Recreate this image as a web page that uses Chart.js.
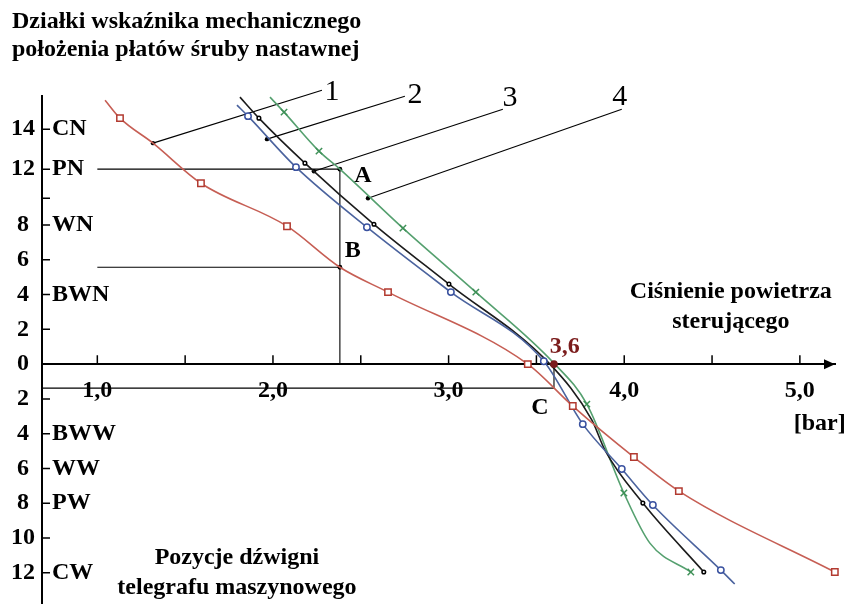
<!DOCTYPE html>
<html>
<head>
<meta charset="utf-8">
<title>Charakterystyka sterowania śrubą nastawną</title>
<script src="https://cdn.jsdelivr.net/npm/chart.js@4/dist/chart.umd.min.js"></script>
<style>
  html, body { margin: 0; padding: 0; background: #fff; }
  #wrap { width: 850px; height: 604px; }
</style>
</head>
<body>
<div id="wrap"><canvas id="chart"></canvas></div>
<script>
// pressure [bar] vs indicator divisions
// curve 1 - red squares
const redX = [1.044, 1.129, 1.317, 1.590, 2.080, 2.381, 2.655, 3.451, 3.707, 4.055, 4.311, 5.199];
const redY = [15.45, 14.55, 13.3, 11.03, 7.93, 5.57, 4.14, 0, -2.41, -5.34, -7.30, -11.95];
const redMarks = [0, 1, 0, 1, 1, 0, 1, 1, 1, 1, 1, 1];

// curve 2 - blue circles
const blueX = [1.795, 1.858, 2.131, 2.535, 3.013, 3.542, 3.764, 3.986, 4.163, 4.550, 4.629];
const blueY = [15.2, 14.65, 12.1, 7.87, 4.14, 0.17, -3.45, -6.03, -8.10, -11.84, -12.64];
const blueMarks = [0, 1, 1, 1, 1, 1, 1, 1, 1, 1, 0];

// curve 3 - black dots
const blackX = [1.812, 1.920, 2.182, 2.575, 3.002, 3.577, 3.816, 3.890, 4.106, 4.453];
const blackY = [15.6, 14.55, 12.3, 8.05, 4.60, 0, -3.22, -4.94, -7.99, -11.95];
const blackMarks = [0, 1, 1, 1, 1, 0, 0, 0, 1, 1];

// curve 4 - green crosses
const greenX = [1.983, 2.063, 2.262, 2.381, 2.740, 3.155, 3.605, 3.787, 3.998, 4.146, 4.379];
const greenY = [15.6, 14.85, 12.9, 12.0, 7.82, 4.14, 0, -2.30, -7.41, -10.29, -11.95];
const greenMarks = [0, 1, 1, 0, 1, 1, 0, 1, 1, 0, 1];

// construction points A, B, C
const pointA = { x: 2.381, y: 12 };
const pointB = { x: 2.381, y: 5.57 };
const pointC = { x: 3.6, y: 0 };
const guideFromX = 1.0;
const cLineY = -1.38;

// leader lines for the curve numbers
const leaderNames = ['1', '2', '3', '4'];
const leaderFromX = [1.317, 1.966, 2.233, 2.541];
const leaderFromY = [13.3, 13.5, 11.86, 10.0];
const leaderToX = [2.279, 2.751, 3.309, 3.986];
const leaderToY = [15.95, 15.65, 15.0, 15.0];

// axes
const xLabelValues = [1, 2, 3, 4, 5];
const xMarkValues = [1, 1.5, 2, 2.5, 3, 3.5, 4, 4.5, 5];
const yTickValues = [14, 12, 8, 6, 4, 2, 0, -2, -4, -6, -8, -10, -12];
const yMarkValues = [14, 12, 10, 8, 6, 4, 2, -2, -4, -6, -8, -10, -12];
const gearValues = [14, 12, 8, 4, -4, -6, -8, -12];
const gearNames = ['CN', 'PN', 'WN', 'BWN', 'BWW', 'WW', 'PW', 'CW'];

// the indicator scale is squeezed above 8 divisions
const warpV = [8, 10, 12, 14];
const warpU = [8, 9.54, 11.21, 13.51];
const warpTop = 1.149;

function warp(v) {
  if (v <= warpV[0]) return v;
  for (let i = 1; i < warpV.length; i++) {
    if (v <= warpV[i]) {
      const t = (v - warpV[i - 1]) / (warpV[i] - warpV[i - 1]);
      return warpU[i - 1] + t * (warpU[i] - warpU[i - 1]);
    }
  }
  return warpU[warpU.length - 1] + (v - warpV[warpV.length - 1]) * warpTop;
}

function unwarp(u) {
  if (u <= warpU[0]) return u;
  for (let i = 1; i < warpU.length; i++) {
    if (u <= warpU[i]) {
      const t = (u - warpU[i - 1]) / (warpU[i] - warpU[i - 1]);
      return warpV[i - 1] + t * (warpV[i] - warpV[i - 1]);
    }
  }
  return warpV[warpV.length - 1] + (u - warpU[warpU.length - 1]) / warpTop;
}

class WarpScale extends Chart.LinearScale {
  getPixelForValue(value) {
    if (value === null || value === undefined || isNaN(value)) return NaN;
    const u0 = warp(this.min), u1 = warp(this.max);
    return this.getPixelForDecimal((warp(value) - u0) / (u1 - u0));
  }
  getValueForPixel(pixel) {
    const u0 = warp(this.min), u1 = warp(this.max);
    return unwarp(u0 + this.getDecimalForPixel(pixel) * (u1 - u0));
  }
}
WarpScale.id = 'warp';
Chart.register(WarpScale);

const SERIF = "'Liberation Serif', 'Times New Roman', serif";
const boldFont = { family: SERIF, size: 24, weight: 'bold' };

const zip = (xs, ys) => xs.map((v, i) => ({ x: v, y: ys[i] }));

// no extra room around the axes, the plot fills the canvas
function noPadding(s) {
  s.paddingTop = 0;
  s.paddingBottom = 0;
  s.paddingLeft = 0;
  s.paddingRight = 0;
}

function curve(xs, ys, marks, color, pointColor, style, r) {
  return {
    data: zip(xs, ys),
    showLine: true,
    cubicInterpolationMode: 'monotone',
    clip: false,
    borderColor: color,
    borderWidth: 1.6,
    pointStyle: style,
    pointRadius: marks.map(m => m ? r : 0),
    pointBorderColor: pointColor,
    pointBackgroundColor: style === 'crossRot' ? pointColor : '#fff',
    pointBorderWidth: 1.5
  };
}

function guide(points, radii) {
  return {
    data: points,
    showLine: true,
    tension: 0,
    clip: false,
    borderColor: '#000',
    borderWidth: 1.1,
    pointRadius: radii,
    pointBackgroundColor: '#000',
    pointBorderWidth: 0
  };
}

const datasets = [
  curve(redX, redY, redMarks, '#c65e54', '#b23a30', 'rect', 4.5),
  curve(blueX, blueY, blueMarks, '#4b639e', '#3a52a0', 'circle', 3.2),
  curve(blackX, blackY, blackMarks, '#1c1c1c', '#000', 'circle', 1.8),
  curve(greenX, greenY, greenMarks, '#55a06f', '#3f9158', 'crossRot', 4.5),
  guide([{ x: guideFromX, y: pointA.y }, pointA, { x: pointA.x, y: 0 }], [0, 2.4, 0]),
  guide([{ x: guideFromX, y: pointB.y }, pointB], [0, 2.4]),
  guide([{ x: 0.685, y: cLineY }, { x: pointC.x, y: cLineY }, { x: pointC.x, y: 0 }], 0)
];
leaderNames.forEach((n, i) => {
  datasets.push(guide([{ x: leaderFromX[i], y: leaderFromY[i] }, { x: leaderToX[i], y: leaderToY[i] }], [2.2, 0]));
});
datasets.unshift({
  data: [pointC],
  clip: false,
  pointRadius: 3.8,
  pointBackgroundColor: '#7b1c1c',
  pointBorderWidth: 0
});

// free text on the drawing
const notes = [
  { text: 'A', x: 2.512, y: 11.52 },
  { text: 'B', x: 2.455, y: 6.49 },
  { text: 'C', x: 3.520, y: -2.53 },
  { text: '3,6', x: 3.662, y: 0.98, color: '#7b1c1c' },
  { text: '[bar]', x: 5.113, y: -3.45 },
  { text: 'Ciśnienie powietrza', x: 4.607, y: 4.14 },
  { text: 'sterującego', x: 4.607, y: 2.41 },
  { text: 'Pozycje dźwigni', x: 1.795, y: -11.15 },
  { text: 'telegrafu maszynowego', x: 1.795, y: -12.87 },
  { text: '1', x: 2.336, y: 15.85, plain: true },
  { text: '2', x: 2.808, y: 15.70, plain: true },
  { text: '3', x: 3.349, y: 15.55, plain: true },
  { text: '4', x: 3.975, y: 15.6, plain: true }
];

const extras = {
  id: 'extras',
  afterDraw(chart) {
    const { ctx, chartArea, scales: { x, y } } = chart;
    const y0 = y.getPixelForValue(0);
    ctx.save();
    ctx.strokeStyle = '#000';
    ctx.lineWidth = 1.5;
    ctx.beginPath();
    yMarkValues.forEach(v => {
      const py = y.getPixelForValue(v);
      ctx.moveTo(chartArea.left, py);
      ctx.lineTo(chartArea.left + 8, py);
    });
    xMarkValues.forEach(v => {
      const px = x.getPixelForValue(v);
      ctx.moveTo(px, y0);
      ctx.lineTo(px, y0 - 9);
    });
    ctx.stroke();

    // arrow head on the pressure axis
    ctx.fillStyle = '#000';
    ctx.beginPath();
    ctx.moveTo(chartArea.right, y0);
    ctx.lineTo(chartArea.right - 11, y0 - 5);
    ctx.lineTo(chartArea.right - 11, y0 + 5);
    ctx.closePath();
    ctx.fill();

    ctx.textAlign = 'center';
    ctx.textBaseline = 'middle';
    notes.forEach(n => {
      ctx.font = n.plain ? `30px ${SERIF}` : `bold 24px ${SERIF}`;
      ctx.fillStyle = n.color || '#000';
      ctx.fillText(n.text, x.getPixelForValue(n.x), y.getPixelForValue(n.y));
    });
    ctx.restore();
  }
};

new Chart(document.getElementById('chart'), {
  type: 'scatter',
  data: { datasets },
  options: {
    responsive: true,
    maintainAspectRatio: false,
    animation: false,
    layout: { autoPadding: false, padding: { left: 12, right: 15, top: 0, bottom: 0 } },
    plugins: {
      legend: { display: false },
      tooltip: { enabled: false },
      title: {
        display: true,
        text: ['Działki wskaźnika mechanicznego', 'położenia płatów śruby nastawnej'],
        align: 'start',
        color: '#000',
        font: { family: SERIF, size: 24, weight: 'bold', lineHeight: 1.17 },
        padding: { top: 8, bottom: 32 }
      }
    },
    scales: {
      x: {
        type: 'linear',
        min: 0.685,
        max: 5.2,
        position: { y: 0 },
        z: 1,
        afterBuildTicks: s => { s.ticks = xLabelValues.map(v => ({ value: v })); },
        afterFit: noPadding,
        ticks: {
          autoSkip: false,
          maxRotation: 0,
          padding: 12,
          color: '#000',
          font: boldFont,
          callback: v => v.toFixed(1).replace('.', ','),
          showLabelBackdrop: true,
          backdropColor: '#fff',
          backdropPadding: { x: 5, y: 0 }
        },
        grid: { display: false, drawTicks: false },
        border: { display: true, color: '#000', width: 2 }
      },
      y: {
        type: 'warp',
        min: -13.79,
        max: 15.65,
        position: 'left',
        weight: 1,
        afterBuildTicks: s => { s.ticks = yTickValues.map(v => ({ value: v })); },
        afterFit: s => { s.width = 30; noPadding(s); },
        ticks: {
          autoSkip: false,
          padding: 7,
          crossAlign: 'center',
          color: '#000',
          font: boldFont,
          callback: v => String(Math.abs(v))
        },
        grid: { display: false, drawTicks: false },
        border: { display: true, color: '#000', width: 2 }
      },
      yGear: {
        type: 'warp',
        min: -13.79,
        max: 15.65,
        position: 'left',
        weight: 0,
        afterBuildTicks: s => { s.ticks = gearValues.map(v => ({ value: v })); },
        afterFit: s => { s.width = 0; noPadding(s); },
        ticks: {
          mirror: true,
          autoSkip: false,
          padding: 10,
          color: '#000',
          font: boldFont,
          callback: (v, i) => gearNames[i]
        },
        grid: { display: false, drawTicks: false },
        border: { display: false }
      }
    }
  },
  plugins: [extras]
});
</script>
</body>
</html>
